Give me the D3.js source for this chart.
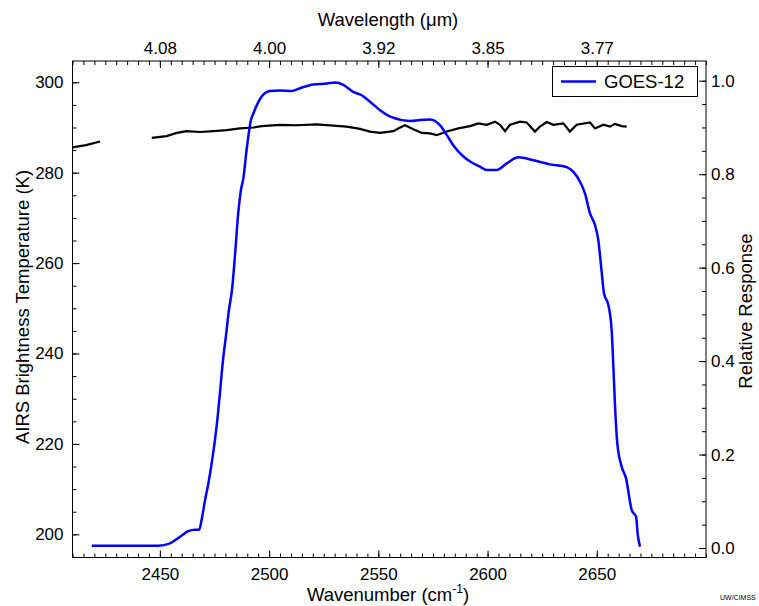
<!DOCTYPE html>
<html><head><meta charset="utf-8">
<script src="https://cdn.jsdelivr.net/npm/d3@7"></script>
<style>body{margin:0;background:#fff} text{font-family:"Liberation Sans",Arial,sans-serif;fill:#000}</style>
</head><body><svg id="c" width="759" height="606"></svg>
<script>
// GOES-12 relative response (right axis)
const goesWn = [2418.8,2449.3,2454.6,2459.2,2463.0,2466.1,2468.0,2469.1,2470.7,2472.2,2473.7,2475.2,2476.3,2477.2,2478.9,2480.3,2481.6,2483.0,2484.4,2485.8,2487.1,2488.2,2489.7,2491.7,2492.8,2496.6,2500.4,2505.0,2510.3,2514.1,2520.2,2526.4,2530.2,2534.0,2538.5,2542.4,2546.2,2550.8,2556.1,2564.5,2569.1,2573.7,2578.2,2581.3,2584.3,2588.2,2592.0,2596.5,2599.6,2604.2,2608.8,2614.1,2620.9,2628.6,2636.2,2639.3,2642.3,2644.6,2646.9,2649.2,2650.7,2652.3,2653.3,2655.3,2656.8,2657.6,2658.3,2659.4,2661.4,2663.4,2666.0,2668.0,2668.7,2669.8];
const goesResp = [0.005,0.005,0.010,0.024,0.036,0.039,0.039,0.060,0.103,0.138,0.181,0.231,0.274,0.317,0.402,0.456,0.509,0.552,0.627,0.713,0.766,0.791,0.852,0.916,0.930,0.966,0.978,0.979,0.978,0.984,0.992,0.994,0.996,0.991,0.976,0.969,0.955,0.937,0.922,0.914,0.916,0.917,0.905,0.884,0.862,0.841,0.827,0.816,0.809,0.809,0.823,0.836,0.830,0.821,0.815,0.805,0.784,0.759,0.716,0.691,0.659,0.588,0.545,0.520,0.467,0.388,0.310,0.224,0.174,0.149,0.081,0.067,0.031,0.003];
// AIRS brightness temperature (left axis), null = gap
const airsWn = [2410,2416.2,2422.6,2434,2446.3,2453.1,2457.7,2462.3,2468.4,2474.5,2480.6,2486.7,2492.8,2496.6,2505.0,2512.6,2521.8,2529.4,2535.5,2541.6,2546.2,2550.8,2556.9,2560.0,2562.2,2566.0,2569.9,2573.7,2576.7,2581.3,2586.6,2592.0,2595.8,2599.6,2603.4,2605.7,2608.0,2610.3,2614.9,2617.9,2621.7,2624.0,2627.1,2630.1,2634.7,2637.7,2640.8,2646.9,2649.2,2653.0,2656.1,2658.3,2661.4,2663.7];
const airsTemp = [285.6,286.1,286.9,null,287.7,288.1,288.8,289.2,289.0,289.2,289.4,289.8,290.0,290.3,290.6,290.5,290.7,290.4,290.2,289.7,289.1,288.8,289.2,290.0,290.5,289.6,288.8,288.7,288.3,289.1,289.8,290.3,290.9,290.6,291.3,290.6,289.2,290.6,291.3,291.1,289.1,290.2,291.2,290.6,290.9,289.1,290.6,291.1,289.8,290.6,290.2,290.8,290.3,290.2];
const wnTicks = [2450,2500,2550,2600,2650];
const wlTickLabels = ["4.08","4.00","3.92","3.85","3.77"];
const tempTicks = [200,220,240,260,280,300];
const respTicks = [0.0,0.2,0.4,0.6,0.8,1.0];

const svg = d3.select("#c");
const L=72.5, R=706, T=61, B=557.5;
const x = d3.scaleLinear().domain([2410,2700]).range([L,R]);
const yT = d3.scaleLinear().domain([194.87,304.71]).range([B,T]);
const yR = d3.scaleLinear().domain([-0.0203,1.0422]).range([B,T]);

const font = '"Liberation Sans",Arial,sans-serif';
const tickFs = 17, titleFs = 18.5;
function styleAxis(g){
  g.select(".domain").remove();
  g.selectAll("line").attr("stroke","#000").attr("stroke-width",1);
  g.selectAll("text").attr("font-size",tickFs).attr("font-family",font).attr("fill","#000");
}
const minorWn = d3.range(2410,2701,5);
const minorT = d3.range(195,305,5);
const minorR = d3.range(0,1.0401,0.05);

// bottom
svg.append("g").attr("transform",`translate(0,${B})`).call(d3.axisBottom(x).tickValues(minorWn).tickSize(-4).tickFormat("")).call(styleAxis);
svg.append("g").attr("transform",`translate(0,${B})`).call(d3.axisBottom(x).tickValues(wnTicks).tickSizeInner(-7).tickSizeOuter(0).tickPadding(10).tickFormat(d3.format("d"))).call(styleAxis);
// top
svg.append("g").attr("transform",`translate(0,${T})`).call(d3.axisTop(x).tickValues(minorWn).tickSize(-4).tickFormat("")).call(styleAxis);
svg.append("g").attr("transform",`translate(0,${T})`).call(d3.axisTop(x).tickValues(wnTicks).tickSizeInner(-7).tickSizeOuter(0).tickPadding(7).tickFormat((d,i)=>wlTickLabels[i])).call(styleAxis);
// left
svg.append("g").attr("transform",`translate(${L},0)`).call(d3.axisLeft(yT).tickValues(minorT).tickSize(-4).tickFormat("")).call(styleAxis);
svg.append("g").attr("transform",`translate(${L},0)`).call(d3.axisLeft(yT).tickValues(tempTicks).tickSizeInner(-7).tickSizeOuter(0).tickPadding(9).tickFormat(d3.format("d"))).call(styleAxis);
// right
svg.append("g").attr("transform",`translate(${R},0)`).call(d3.axisRight(yR).tickValues(minorR).tickSize(-4).tickFormat("")).call(styleAxis);
svg.append("g").attr("transform",`translate(${R},0)`).call(d3.axisRight(yR).tickValues(respTicks).tickSizeInner(-7).tickSizeOuter(0).tickPadding(5).tickFormat(d3.format(".1f"))).call(styleAxis);

// frame
svg.append("rect").attr("x",L).attr("y",T).attr("width",R-L).attr("height",B-T).attr("fill","none").attr("stroke","#000").attr("stroke-width",1);

// AIRS line
const airs = airsWn.map((w,i)=>({w,v:airsTemp[i]}));
svg.append("path").datum(airs).attr("fill","none").attr("stroke","#000").attr("stroke-width",2.2)
  .attr("d",d3.line().defined(d=>d.v!==null).x(d=>x(d.w)).y(d=>yT(d.v)));
// GOES line
const goes = goesWn.map((w,i)=>({w,v:goesResp[i]}));
svg.append("path").datum(goes).attr("fill","none").attr("stroke","#0000ff").attr("stroke-width",2.5)
  .attr("d",d3.line().curve(d3.curveMonotoneX).x(d=>x(d.w)).y(d=>yR(d.v)));

// legend
svg.append("rect").attr("x",552.5).attr("y",66.5).attr("width",145).attr("height",30).attr("fill","#fff").attr("stroke","#000");
svg.append("line").attr("x1",561).attr("x2",596).attr("y1",81.5).attr("y2",81.5).attr("stroke","#0000ff").attr("stroke-width",2.5);
svg.append("text").attr("x",604).attr("y",88).attr("font-size",titleFs).text("GOES-12");

// titles
svg.append("text").attr("x",388).attr("y",26).attr("text-anchor","middle").attr("font-size",titleFs).text("Wavelength (μm)");
const wt = svg.append("text").attr("x",388).attr("y",601).attr("text-anchor","middle").attr("font-size",titleFs);
wt.append("tspan").text("Wavenumber (cm");
wt.append("tspan").attr("dy",-8).attr("font-size",12).text("-1");
wt.append("tspan").attr("dy",8).text(")");
svg.append("text").attr("transform","translate(29,307) rotate(-90)").attr("text-anchor","middle").attr("font-size",titleFs).text("AIRS Brightness Temperature (K)");
svg.append("text").attr("transform","translate(752,311) rotate(-90)").attr("text-anchor","middle").attr("font-size",titleFs).text("Relative Response");
svg.append("text").attr("x",720).attr("y",600).attr("font-size",7).text("UW/CIMSS");
</script></body></html>
